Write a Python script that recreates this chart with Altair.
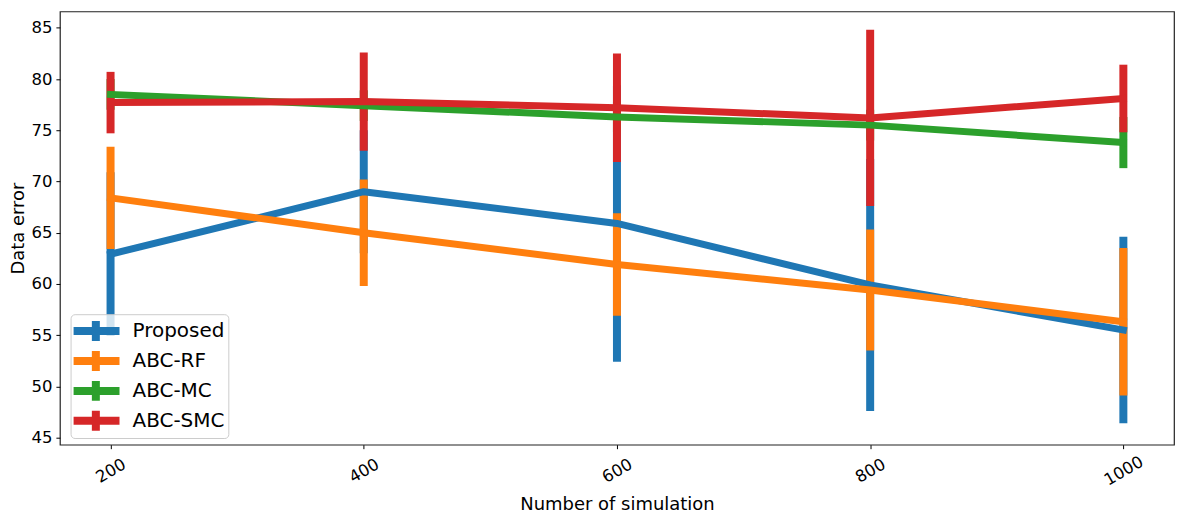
import altair as alt
import pandas as pd

# ---- data ----
sims = [200, 400, 600, 800, 1000]
series = ["Proposed", "ABC-RF", "ABC-MC", "ABC-SMC"]
colors = ["#1f77b4", "#ff7f0e", "#2ca02c", "#d62728"]

proposed_mean = [62.9, 69.0, 65.9, 59.9, 55.5]
proposed_err = [8.0, 6.0, 13.5, 12.3, 9.1]
rf_mean = [68.4, 65.0, 61.9, 59.4, 56.3]
rf_err = [5.0, 5.2, 5.0, 5.9, 7.2]
mc_mean = [78.5, 77.4, 76.3, 75.5, 73.8]
mc_err = [1.5, 1.5, 1.5, 1.5, 2.5]
smc_mean = [77.7, 77.8, 77.2, 76.2, 78.1]
smc_err = [3.0, 4.8, 5.3, 8.6, 3.3]

y_ticks = [45, 50, 55, 60, 65, 70, 75, 80, 85]

means = [proposed_mean, rf_mean, mc_mean, smc_mean]
errs = [proposed_err, rf_err, mc_err, smc_err]

rows = []
for name, ms, es in zip(series, means, errs):
    for s, m, e in zip(sims, ms, es):
        rows.append({"series": name, "sims": s, "mean": m, "lo": m - e, "hi": m + e})
df = pd.DataFrame(rows)

FONT = "DejaVu Sans"

x_scale = alt.Scale(domain=[160, 1040], nice=False, zero=False)
y_scale = alt.Scale(domain=[44.3, 86.6], nice=False, zero=False)

x_axis = alt.Axis(
    values=sims, format="d", labelAngle=330, labelAlign="center", labelBaseline="middle",
    labelPadding=22, tickSize=4, labelFontSize=16.5, titleFontSize=18,
    titlePadding=7, grid=False, domain=False, tickColor="#000",
    labelColor="#000", titleColor="#000", titleFontWeight="normal",
    labelFont=FONT, titleFont=FONT,
)
y_axis = alt.Axis(
    values=y_ticks, tickSize=4, labelPadding=4, labelFontSize=16.5,
    titleFontSize=18, titlePadding=3, grid=False, domain=False,
    tickColor="#000", labelColor="#000", titleColor="#000",
    titleFontWeight="normal", labelFont=FONT, titleFont=FONT,
)

legend = alt.Legend(
    title=None, orient="none", legendX=10.7, legendY=303.3,
    symbolType="M-1.6,0H3.2M0.83,-1V1", symbolSize=400, symbolStrokeWidth=8,
    symbolFillColor="transparent", labelFontSize=20, labelFont=FONT,
    labelColor="#000", labelOffset=31, fillColor="rgba(255,255,255,0.8)",
    strokeColor="#cccccc", cornerRadius=4, padding=3, rowPadding=2,
    clipHeight=27.6,
)

color = alt.Color("series:N", scale=alt.Scale(domain=series, range=colors), legend=legend)

base = alt.Chart(df)
layers = []
for name in series:
    layers.append(
        base.transform_filter(alt.datum.series == name)
        .mark_rule(strokeWidth=8, strokeCap="butt")
        .encode(
            x=alt.X("sims:Q", scale=x_scale, axis=x_axis, title="Number of simulation"),
            y=alt.Y("lo:Q", scale=y_scale, axis=y_axis, title="Data error"),
            y2="hi:Q",
            color=color,
        )
    )
for name in series:
    layers.append(
        base.transform_filter(alt.datum.series == name)
        .mark_line(strokeWidth=7, strokeCap="square", strokeJoin="round")
        .encode(
            x=alt.X("sims:Q", scale=x_scale, axis=x_axis, title="Number of simulation"),
            y=alt.Y("mean:Q", scale=y_scale, axis=y_axis, title="Data error"),
            color=color,
        )
    )

chart = (
    alt.layer(*layers)
    .properties(
        width=1116, height=434,
        autosize=alt.AutoSizeParams(type="none"),
        padding={"left": 52, "top": 3, "right": 4, "bottom": 75},
        background="white",
    )
    .configure(font=FONT)
    .configure_view(stroke="#222", strokeWidth=1.2)
)

chart.save("out.html", embed_options={"renderer": "svg", "actions": False})
